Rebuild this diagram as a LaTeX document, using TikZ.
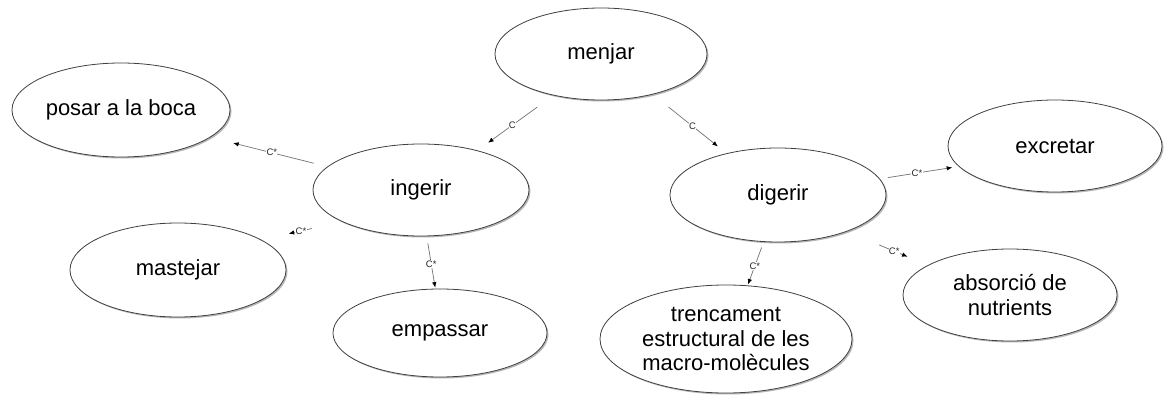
\documentclass[tikz,border=0pt]{standalone}
\usepackage{fontspec}
\setmainfont{Liberation Sans}
\usetikzlibrary{shapes.geometric,arrows.meta,shadows}
\begin{document}
\begin{tikzpicture}[x=1pt,y=-1pt,
    concept/.style={ellipse,draw=black!75,line width=0.8pt,fill=white,inner sep=0pt,
      minimum width=214pt,minimum height=92pt,align=center,
      font=\fontsize{22}{24.5}\selectfont,
      drop shadow={shadow xshift=1.5pt,shadow yshift=-1.5pt,fill=black!40,opacity=.7}},
    link/.style={draw=black!55,line width=0.7pt,-{Latex[black,length=5.5pt,width=4.5pt]}},
    lbl/.style={fill=white,inner sep=0.4pt,font=\fontsize{9.5}{9.5}\selectfont,text=black!85}]
    \useasboundingbox[fill=white] (0,0) rectangle (1165,398);
    \node[concept,minimum width=212pt] (menjar) at (601,54) {menjar};
    \node[concept,minimum width=218pt,minimum height=94pt] (posar) at (121,110) {posar a la boca};
    \node[concept,minimum width=216pt] (ingerir) at (421,190) {ingerir};
    \node[concept,minimum width=216pt,minimum height=94pt] (digerir) at (778,195) {digerir};
    \node[concept] (excretar) at (1055,146) {excretar};
    \node[concept,minimum width=216pt,minimum height=94pt] (mastejar) at (178,270) {mastejar};
    \node[concept,minimum height=88pt] (empassar) at (440,333) {empassar};
    \node[concept,minimum width=252pt,minimum height=108pt] (trencament) at (726,339) {trencament\\estructural de les\\macro-molècules};
    \node[concept] (absorcio) at (1010,295) {absorció de\\nutrients};
    \draw[link,shorten <=20pt,shorten >=13pt] (menjar.221) -- node[lbl,pos=.54] {C} (ingerir.35);
    \draw[link,shorten <=20pt,shorten >=11pt] (menjar.322) -- node[lbl,pos=.54] {C} (digerir.141);
    \draw[link,shorten <=14pt,shorten >=23.5pt] (ingerir.166) -- node[lbl,pos=.475] {C*} (posar.343);
    \draw[link,shorten <=31pt,shorten >=28pt] (ingerir.202) -- node[lbl,pos=.51] {C*} (mastejar.20);
    \draw[link,shorten <=7pt,shorten >=1pt] (ingerir.277) -- node[lbl,pos=.53] {C*} (empassar.96);
    \draw[link,shorten <=6pt,shorten >=1pt] (digerir.253) -- node[lbl,pos=.55] {C*} (trencament.68);
    \draw[link,shorten <=8pt,shorten >=6.5pt] (digerir.9) -- node[lbl,pos=.47] {C*} (excretar.192);
    \draw[link,shorten <=35pt,shorten >=22pt] (digerir.332) -- node[lbl,pos=.585] {C*} (absorcio.160);
\end{tikzpicture}
\end{document}
